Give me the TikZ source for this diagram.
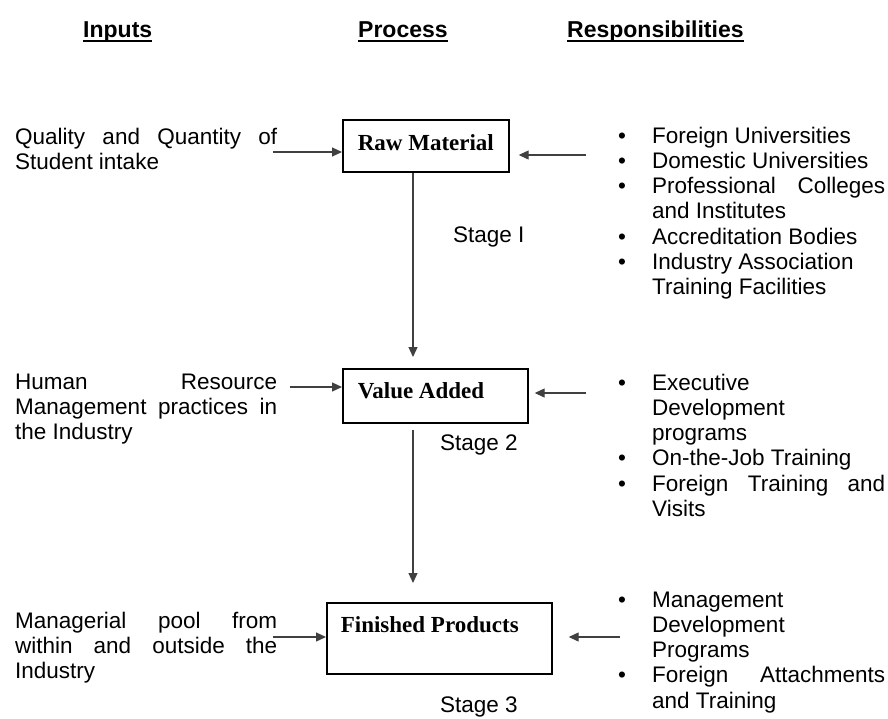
\documentclass[tikz,border=0pt]{standalone}
\usepackage{fontspec}
\setmainfont{Liberation Sans}
\newfontfamily\boxfont{Liberation Serif}
\usetikzlibrary{arrows.meta}
\hyphenpenalty=10000
\exhyphenpenalty=10000
\tolerance=10000
\newcommand{\hdr}[1]{\setbox0\hbox{#1}\rlap{\rule[-4.8pt]{\wd0}{1.6pt}}\box0}
\newcommand{\bitem}{\hangindent=36pt\hangafter=1\noindent\makebox[36pt][l]{\hspace{2pt}\textbullet}}

\begin{document}
\begin{tikzpicture}[x=1pt, y=-1pt,
  every node/.style={inner sep=0pt, font=\fontsize{22.5}{25.3}\selectfont},
  heading/.style={anchor=base west, font=\fontsize{23}{26}\selectfont\bfseries},
  inputtext/.style={anchor=base west, text width=262pt, align=justify},
  resptext/.style={anchor=base west, text width=269pt, align=justify},
  stagebox/.style={draw, line width=1.7pt, anchor=north west, align=flush left, font=\fontsize{23}{26}\selectfont\boxfont\bfseries},
  flow/.style={line width=1.2pt, draw=black!75, -{Triangle[length=10pt,width=9pt]}}]
\useasboundingbox (0,0) rectangle (888,718);
%\draw[help lines, step=50] (0,0) grid (888,718);
%%%%%%%%%%%%%%%%%%%%%%%%%%%%%%% column headings
\node[heading] (hInputs) at (83,37) {\hdr{Inputs}};
\node[heading] (hProcess) at (358,37) {\hdr{Process}};
\node[heading] (hResp) at (567,37) {\hdr{Responsibilities}};

%%%%%%%%%%%%%%%%%%%%%%%%%%%%%%% process boxes
\node[stagebox, minimum width=166pt, text height=31pt, text depth=21pt] (raw) at (342,119) {Raw Material};
\node[stagebox, inner xsep=15pt, text width=155pt, text height=30pt, text depth=24pt] (value) at (342,368) {Value Added};
\node[stagebox, inner xsep=14pt, text width=197pt, text height=30pt, text depth=41pt] (finished) at (326,602) {Finished Products};

\coordinate (spine) at (413,0);
\draw[flow, shorten >=11pt] (raw.south -| spine) -- (value.north -| spine);
\draw[flow, shorten <=6pt, shorten >=19pt] (value.south -| spine) -- (finished.north -| spine);

\node[anchor=base west] (stageOne) at (453,242) {Stage I};
\node[anchor=base west] (stageTwo) at (440,450) {Stage 2};
\node[anchor=base west] (stageThree) at (440,712) {Stage 3};

%%%%%%%%%%%%%%%%%%%%%%%%%%%%%%% inputs
\node[inputtext] (inQuality) at (15,144) {Quality and Quantity of Student intake};
\node[inputtext] (inHuman) at (15,389) {Human Resource Management practices in the Industry};
\node[inputtext] (inPool) at (15,628) {Managerial pool from within and outside the Industry};

\coordinate (tailQuality) at (273,152);
\coordinate (tailHuman) at (290,387);
\coordinate (tailPool) at (273,637);
\draw[flow] (tailQuality) -- (tailQuality -| raw.west);
\draw[flow] (tailHuman) -- (tailHuman -| value.west);
\draw[flow] (tailPool) -- (tailPool -| finished.west);

%%%%%%%%%%%%%%%%%%%%%%%%%%%%%%% responsibilities
\node[resptext] (respRaw) at (616,143) {\bitem Foreign Universities\par \bitem Domestic Universities\par \bitem Professional Colleges and Institutes\par \bitem Accreditation Bodies\par \bitem Industry Association\newline Training Facilities\par};
\node[resptext] (respValue) at (616,390) {\bitem Executive\newline Development\newline programs\par \bitem On-the-Job Training\par \bitem Foreign Training and Visits\par};
\node[resptext] (respFinished) at (616,607) {\bitem Management\newline Development\newline Programs\par \bitem Foreign Attachments and Training\par};

\coordinate (tailRaw) at (586,155);
\coordinate (tailValue) at (586,393);
\coordinate (tailFinished) at (620,637);
\draw[flow, shorten >=9pt] (tailRaw) -- (tailRaw -| raw.east);
\draw[flow, shorten >=6pt] (tailValue) -- (tailValue -| value.east);
\draw[flow, shorten >=16pt] (tailFinished) -- (tailFinished -| finished.east);
\end{tikzpicture}
\end{document}
